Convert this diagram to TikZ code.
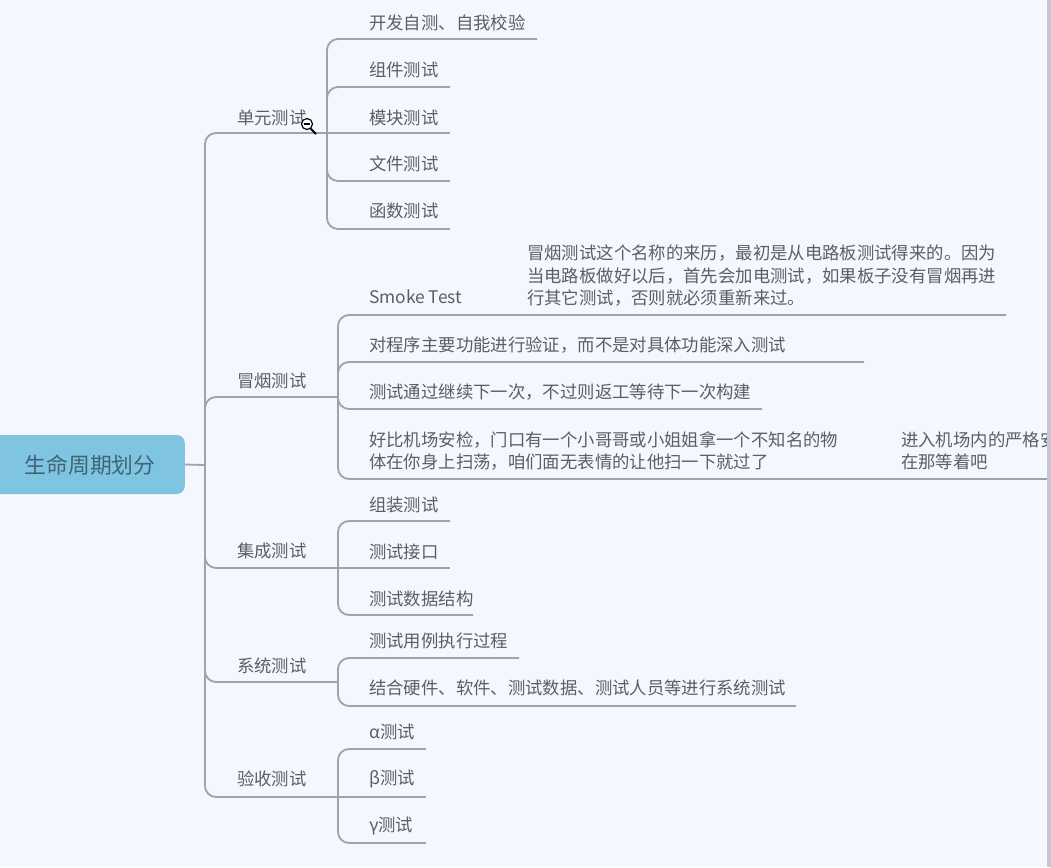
\documentclass[tikz,border=0pt]{standalone}
\usepackage{fontspec}
\setmainfont{Noto Sans CJK SC}
\definecolor{pagebg}{HTML}{F4F8FE}
\definecolor{rootfill}{HTML}{7FC4E0}
\definecolor{rootink}{HTML}{3F6478}
\definecolor{linkgray}{HTML}{9DA4AC}
\definecolor{inkgray}{HTML}{5A5F64}
\definecolor{edgegray}{HTML}{C4C8CE}
\tikzset{
  leaf/.style={anchor=west, inner sep=0pt, text=inkgray, font=\fontsize{17.37}{22.5}\selectfont, align=left},
  topic/.style={leaf},
  link/.style={draw=linkgray, line width=1.8pt, rounded corners=11pt},
}
\begin{document}
\begin{tikzpicture}[x=1pt, y=-1pt]
\useasboundingbox (0,0) rectangle (1051,867);
\fill[pagebg] (0,0) rectangle (1051,867);

\node[fill=rootfill, rounded corners=8pt, minimum width=195pt, minimum height=59pt, inner sep=0pt, anchor=east] (root) at (185,464.5) {};
\node[text=rootink, font=\fontsize{21.8}{24}\selectfont, inner sep=0pt] (roottext) at (90,465) {生命周期划分};
\coordinate (trunk) at (205,465);

\node[topic] (unit) at (237,117.5) {单元测试};
\node[topic] (smoke) at (237,380.5) {冒烟测试};
\node[topic] (integ) at (237,550.5) {集成测试};
\node[topic] (sys) at (237,665.5) {系统测试};
\node[topic] (accept) at (237,778.5) {验收测试};

\coordinate (unitend) at (327,133);
\coordinate (smokeend) at (338,397);
\coordinate (integend) at (338,568);
\coordinate (sysend) at (338,682);
\coordinate (acceptend) at (338,797);

\node[leaf] (selftest) at (369,22.5) {开发自测、自我校验};
\node[leaf] (comp) at (369,69.5) {组件测试};
\node[leaf] (module) at (369,117.5) {模块测试};
\node[leaf] (file) at (369,163.5) {文件测试};
\node[leaf] (func) at (369,210.5) {函数测试};
\coordinate (selftestend) at (537,39);
\coordinate (compend) at (450,87);
\coordinate (moduleend) at (450,133);
\coordinate (fileend) at (450,181);
\coordinate (funcend) at (450,229);

\node[leaf] (smokeen) at (369,297) {Smoke Test};
\node[leaf] (smokenote) at (527,276) {冒烟测试这个名称的来历，最初是从电路板测试得来的。因为\\当电路板做好以后，首先会加电测试，如果板子没有冒烟再进\\行其它测试，否则就必须重新来过。};
\node[leaf] (verify) at (369,345.5) {对程序主要功能进行验证，而不是对具体功能深入测试};
\node[leaf] (pass) at (369,392.5) {测试通过继续下一次，不过则返工等待下一次构建};
\node[leaf] (airport) at (369,451) {好比机场安检，门口有一个小哥哥或小姐姐拿一个不知名的物\\体在你身上扫荡，咱们面无表情的让他扫一下就过了};
\node[leaf] (strict) at (901,451) {进入机场内的严格安\\在那等着吧};
\coordinate (smokeenend) at (1006,315);
\coordinate (verifyend) at (864,362);
\coordinate (passend) at (762,409);
\coordinate (airportend) at (1051,479);

\node[leaf] (assemble) at (369,504.5) {组装测试};
\node[leaf] (port) at (369,551.5) {测试接口};
\node[leaf] (data) at (369,598.5) {测试数据结构};
\coordinate (assembleend) at (450,521);
\coordinate (portend) at (450,568);
\coordinate (dataend) at (473,615);

\node[leaf] (run) at (369,641) {测试用例执行过程};
\node[leaf] (hw) at (369,687.5) {结合硬件、软件、测试数据、测试人员等进行系统测试};
\coordinate (runend) at (519,658);
\coordinate (hwend) at (796,706);

\node[leaf] (alpha) at (369,731.5) {α测试};
\node[leaf] (beta) at (369,778.5) {β测试};
\node[leaf] (gamma) at (369,825.5) {γ测试};
\coordinate (alphaend) at (426,749);
\coordinate (betaend) at (426,797);
\coordinate (gammaend) at (426,843);

\draw[link] (root.east) -- (trunk);
\draw[link] (trunk) |- (unitend);
\draw[link] (trunk) |- (smokeend);
\draw[link] (trunk) |- (integend);
\draw[link] (trunk) |- (sysend);
\draw[link] (trunk) |- (acceptend);

\draw[link] (unitend) |- (selftestend);
\draw[link] (unitend) |- (compend);
\draw[link] (unitend) -- (moduleend);
\draw[link] (unitend) |- (fileend);
\draw[link] (unitend) |- (funcend);

\draw[link] (smokeend) |- (smokeenend);
\draw[link] (smokeend) |- (verifyend);
\draw[link] (smokeend) |- (passend);
\draw[link] (smokeend) |- (airportend);

\draw[link] (integend) |- (assembleend);
\draw[link] (integend) -- (portend);
\draw[link] (integend) |- (dataend);

\draw[link] (sysend) |- (runend);
\draw[link] (sysend) |- (hwend);

\draw[link] (acceptend) |- (alphaend);
\draw[link] (acceptend) -- (betaend);
\draw[link] (acceptend) |- (gammaend);

% pointer
\draw[black, line width=2pt] (310,128) -- (316,134);
\draw[black, line width=1.2pt, fill=white] (307,124) circle (5.5pt);
\draw[black, line width=1.6pt] (304,124) -- (310,124);

% window edge
\fill[edgegray] (1047,0) rectangle (1051,867);
\end{tikzpicture}
\end{document}
